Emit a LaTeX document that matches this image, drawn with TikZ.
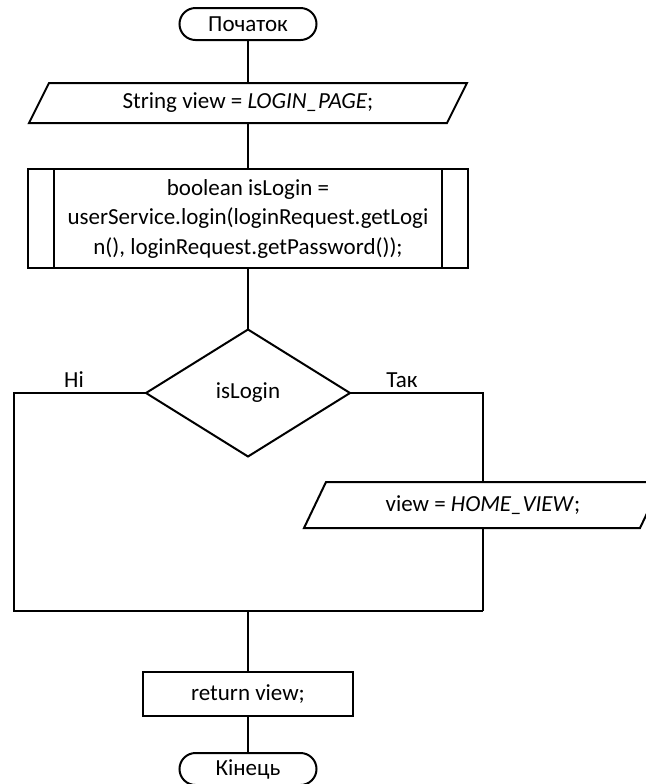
\documentclass[tikz,border=0pt]{standalone}
\usepackage{fontspec}
\setmainfont{Carlito}
\usetikzlibrary{shapes.misc}
\begin{document}
\begin{tikzpicture}[x=0.5pt,y=-0.5pt,line width=1pt,
  every node/.style={font=\fontsize{11.5}{14.75}\selectfont, inner sep=0pt},
  term/.style={rounded rectangle, draw, minimum width=68.5pt, minimum height=16pt},
  slot/.style 2 args={minimum width=#1, minimum height=#2},
  proc/.style 2 args={draw, minimum width=#1, minimum height=#2},
  lbl/.style={inner sep=0pt}]
  \useasboundingbox (0,0) rectangle (646,784);
  \clip (0,0) rectangle (646,784);

  % blocks
  \node[term] (start) at (248,24) {Початок};
  \node[slot={208pt}{19pt}] (p1) at (248,103) {String view = \textit{LOGIN\_PAGE};};
  \draw ([xshift=-5pt]p1.south west) -- ([xshift=5pt]p1.north west)
        -- ([xshift=5pt]p1.north east) -- ([xshift=-5pt]p1.south east) -- cycle;

  \node[proc={220pt}{49.5pt}, align=center] (sub) at (248,218.5)
    {boolean isLogin =\\userService.login(loginRequest.getLogi\\n(), loginRequest.getPassword());};
  \draw ([xshift=13.5pt]sub.north west) -- ([xshift=13.5pt]sub.south west);
  \draw ([xshift=-13.5pt]sub.north east) -- ([xshift=-13.5pt]sub.south east);

  \node[slot={101pt}{62.5pt}] (d) at (248,393) {isLogin};
  \draw (d.north) -- (d.east) -- (d.south) -- (d.west) -- cycle;

  \node[slot={167pt}{22pt}] (p2) at (483,505) {view = \textit{HOME\_VIEW};};
  \draw ([xshift=-5.5pt]p2.south west) -- ([xshift=5.5pt]p2.north west)
        -- ([xshift=5.5pt]p2.north east) -- ([xshift=-5.5pt]p2.south east) -- cycle;

  \node[proc={105pt}{22pt}] (ret) at (248,694) {return view;};
  \node[term] (end) at (248,769) {Кінець};

  % branch labels
  \node[lbl] (no) at (74,380) {Ні};
  \node[lbl] (yes) at (402,380) {Так};

  % connectors
  \coordinate (mL) at (14,611);
  \coordinate (mR) at (483,611);
  \coordinate (mJ) at (248,611);
  \draw (start.south) -- (p1.north);
  \draw (p1.south) -- (sub.north);
  \draw (sub.south) -- (d.north);
  \draw (d.east) -| (p2.north);
  \draw (p2.south) -- (mR);
  \draw (d.west) -| (mL) -- (mR);
  \draw (mJ) -- (ret.north);
  \draw (ret.south) -- (end.north);
\end{tikzpicture}
\end{document}
